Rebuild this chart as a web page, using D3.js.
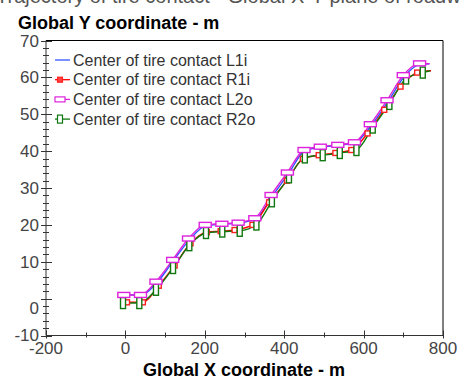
<!DOCTYPE html>
<html><head><meta charset="utf-8">
<script src="https://cdn.jsdelivr.net/npm/d3@7"></script>
<style>body{margin:0;background:#fff}svg{display:block}text{font-family:"Liberation Sans",Arial,sans-serif}</style>
</head><body><svg id="c" width="459" height="381"></svg>
<script>
const seriesNames = ["Center of tire contact L1i","Center of tire contact R1i","Center of tire contact L2o","Center of tire contact R2o"];
const xTicks = [-200,0,200,400,600,800];
const yTicks = [-10,0,10,20,30,40,50,60,70];
// L1i (blue line, no markers)
const l1iX = [-4,38,80,121,162,203,244,286,328,370,411,452,494,537,578,620,662,703,744,766];
const l1iY = [1.0,1.0,4.4,10.3,16.0,19.8,20.2,20.5,21.6,27.8,33.9,40.1,41.1,41.6,42.3,47.0,53.5,60.3,63.6,63.7];
// R1i (red, small squares)
const r1iX = [4,44,84,124,164,205,240,275,320,362,407,447,487,529,569,610,652,693,735,770];
const r1iY = [-1.0,-1.0,3.5,9.0,15.0,18.0,18.3,18.6,20.0,26.1,32.0,37.9,38.9,39.5,40.3,44.8,51.2,57.5,61.3,61.8];
// L2o (magenta, wide rectangles)
const l2oX = [-4,38,77,119,159,201,243,284,326,367,408,450,491,535,577,617,659,700,741,766];
const l2oY = [1.0,1.0,4.6,10.5,16.3,20.0,20.3,20.6,21.8,28.1,34.2,40.3,41.2,41.7,42.4,47.3,53.8,60.6,63.8,63.7];
// R2o (green, tall rectangles)
const r2oX = [-6,35,77,120,161,203,244,288,330,369,412,452,497,540,582,623,665,707,749,768];
const r2oY = [-1.2,-1.2,2.4,8.3,14.5,17.8,18.2,18.4,20.1,26.4,32.9,38.3,38.9,39.5,40.3,46.4,52.8,59.7,61.3,61.8];

const svg = d3.select("#c");
const x = d3.scaleLinear().domain([-200,800]).range([46,443]);
const y = d3.scaleLinear().domain([-10,70]).range([335.5,40.5]);

// clipped header text at top (only its lower part shows, as in the reference)
svg.append("text").attr("x",-4).attr("y",3).attr("font-size",20).attr("fill","#555")
  .text("Trajectory of tire contact - Global X-Y plane of roadway");

svg.append("text").attr("x",18).attr("y",29).attr("font-size",18).attr("font-weight","bold").attr("fill","#000")
  .text("Global Y coordinate - m");
svg.append("text").attr("x",244).attr("y",376).attr("font-size",18).attr("font-weight","bold").attr("text-anchor","middle").attr("fill","#000")
  .text("Global X coordinate - m");

// frame
svg.append("path").attr("d",`M${x(-200)},${y(70)}H${x(800)}V${y(-10)}`).attr("fill","none").attr("stroke","#000").attr("stroke-width",1);

// y axis
const ya = svg.append("g").attr("transform",`translate(${x(-200)},0)`);
ya.append("line").attr("x1",0).attr("x2",0).attr("y1",y(-10)).attr("y2",y(70)).attr("stroke","#333");
d3.range(-10,71,2).forEach(v=>{
  const major = v%10===0;
  ya.append("line").attr("x1",major?-5:-3).attr("x2",major?6:3).attr("y1",Math.round(y(v))+0.5).attr("y2",Math.round(y(v))+0.5).attr("stroke","#333");
});
ya.selectAll("text.t").data(yTicks).join("text").attr("class","t")
  .attr("x",-7).attr("y",d=>y(d)+(d===0?9:(d===-10?-1:0))).attr("dy","0.36em").attr("text-anchor","end")
  .attr("font-size",17).attr("fill","#444").text(d=>d);

// x axis
const xa = svg.append("g").attr("transform",`translate(0,${y(-10)})`);
xa.append("line").attr("x1",x(-200)).attr("x2",x(800)).attr("y1",0).attr("y2",0).attr("stroke","#333");
d3.range(-200,801,100).forEach(v=>{
  const major = v%200===0;
  xa.append("line").attr("x1",Math.round(x(v))+0.5).attr("x2",Math.round(x(v))+0.5).attr("y1",major?-5:-3).attr("y2",major?3:2).attr("stroke","#333");
});
xa.selectAll("text.t").data(xTicks).join("text").attr("class","t")
  .attr("x",d=>x(d)).attr("y",18).attr("text-anchor","middle")
  .attr("font-size",17).attr("fill","#444").text(d=>d);

const line = d3.line().x(d=>x(d[0])).y(d=>y(d[1])).curve(d3.curveMonotoneX);
const zip = (a,b)=>a.map((v,i)=>[v,b[i]]);
const series = [
  {pts:zip(l1iX,l1iY), color:"#3355ff", marker:null},
  {pts:zip(r1iX,r1iY), color:"#ff0000", marker:{w:5,h:5,c:"#ff2020"}},
  {pts:zip(l2oX,l2oY), color:"#dd22dd", marker:{w:12,h:5,c:"#dd22dd"}},
  {pts:zip(r2oX,r2oY), color:"#117711", marker:{w:5,h:11,c:"#117711"}}
];
const order=[0,1,3,2];
order.forEach(i=>{
  const s=series[i];
  svg.append("path").datum(s.pts).attr("d",line).attr("fill","none").attr("stroke",s.color).attr("stroke-width",1.4);
});
order.forEach(i=>{
  const s=series[i];
  if(!s.marker) return;
  const m=s.marker;
  svg.append("g").selectAll("rect").data(s.pts.slice(0,-1)).join("rect")
    .attr("x",d=>x(d[0])-m.w/2).attr("y",d=>y(d[1])-m.h/2).attr("width",m.w).attr("height",m.h)
    .attr("fill","#fff").attr("stroke",m.c).attr("stroke-width",1.4);
});

// legend
const lg = svg.append("g");
series.forEach((s,i)=>{
  const yy = 60 + i*19.7;
  lg.append("line").attr("x1",55).attr("x2",70).attr("y1",yy).attr("y2",yy).attr("stroke",s.color).attr("stroke-width",1.3);
  if(s.marker){
    const m=s.marker; const w=Math.min(m.w,10), h=Math.min(m.h,8);
    lg.append("rect").attr("x",60-w/2).attr("y",yy-h/2).attr("width",w).attr("height",h)
      .attr("fill",i===1?"#ff4040":"#fff").attr("stroke",m.c).attr("stroke-width",1.2);
  }
  lg.append("text").attr("x",73).attr("y",yy).attr("dy","0.36em").attr("font-size",16).attr("fill","#333").text(seriesNames[i]);
});
</script></body></html>
